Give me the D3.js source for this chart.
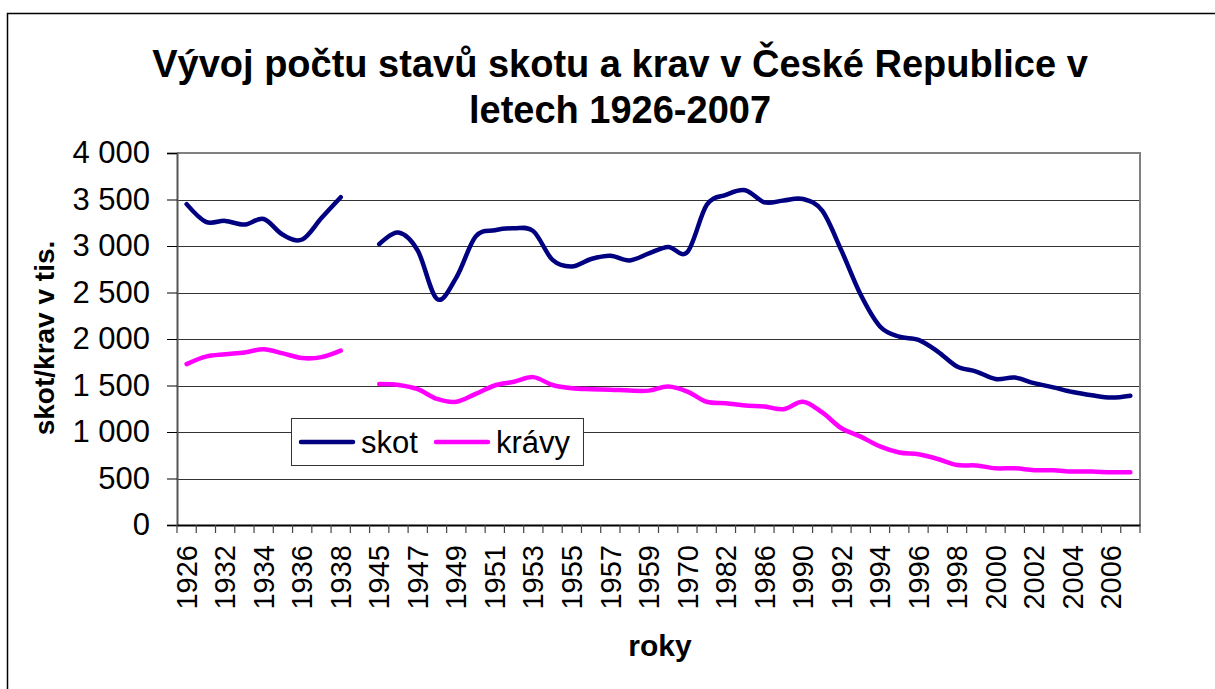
<!DOCTYPE html>
<html>
<head>
<meta charset="utf-8">
<script src="https://cdn.jsdelivr.net/npm/d3@7"></script>
<style>
  html, body { margin: 0; padding: 0; background: #fff; }
  svg { display: block; font-family: Arial, "Liberation Sans", sans-serif; }
</style>
</head>
<body>
<svg id="chart" width="1215" height="689"></svg>
<script>
// categories (every 2nd gets a label)
const years = ["1926", "1930", "1932", "1933", "1934", "1935", "1936", "1937", "1938", "1940",
  "1945", "1946", "1947", "1948", "1949", "1950", "1951", "1952", "1953", "1954",
  "1955", "1956", "1957", "1958", "1959", "1960", "1970", "1980", "1982", "1984",
  "1986", "1988", "1990", "1991", "1992", "1993", "1994", "1995", "1996", "1997",
  "1998", "1999", "2000", "2001", "2002", "2003", "2004", "2005", "2006", "2007"];

// tis. kusů
const skot = [3450, 3260, 3270, 3230, 3290, 3120, 3070, 3300, 3525, null,
  3020, 3145, 2950, 2430, 2660, 3100, 3170, 3190, 3160, 2850,
  2780, 2860, 2895, 2845, 2920, 2990, 2935, 3440, 3550, 3600,
  3470, 3490, 3505, 3380, 2950, 2475, 2135, 2025, 1990, 1865,
  1705, 1650, 1570, 1585, 1525, 1480, 1430, 1395, 1370, 1390];

const kravy = [1730, 1810, 1835, 1855, 1890, 1845, 1795, 1805, 1875, null,
  1515, 1505, 1460, 1355, 1325, 1410, 1500, 1540, 1590, 1505,
  1470, 1460, 1455, 1445, 1445, 1490, 1435, 1325, 1310, 1285,
  1275, 1245, 1325, 1210, 1040, 950, 845, 780, 760, 710,
  645, 640, 610, 610, 590, 588, 575, 575, 567, 567];

const yTicks = [0, 500, 1000, 1500, 2000, 2500, 3000, 3500, 4000];

const series = [
  { name: "skot", values: skot, color: "#000080" },
  { name: "krávy", values: kravy, color: "#FF00FF" }
];

const svg = d3.select("#chart");

// outer chart frame
svg.append("rect")
  .attr("x", 7.5).attr("y", 13.5)
  .attr("width", 1230).attr("height", 700)
  .attr("fill", "none").attr("stroke", "#000").attr("stroke-width", 1.5);

const plot = { left: 177, right: 1140, top: 153, bottom: 525 };

const x = d3.scaleBand().domain(years).range([plot.left, plot.right]).padding(0);
const y = d3.scaleLinear().domain([0, 4000]).range([plot.bottom, plot.top]);
const fmt = v => d3.format(",")(v).replace(/,/g, " ");

// gridlines
svg.append("g").selectAll("line").data(yTicks.filter(d => d > 0)).join("line")
  .attr("x1", plot.left).attr("x2", plot.right)
  .attr("y1", d => Math.round(y(d)) + 0.5).attr("y2", d => Math.round(y(d)) + 0.5)
  .attr("stroke", "#333").attr("stroke-width", 1);

// plot area border (right + top are grey)
svg.append("path")
  .attr("d", `M${plot.left},${plot.top}H${plot.right}V${plot.bottom}`)
  .attr("fill", "none").attr("stroke", "#808080").attr("stroke-width", 2);

// y axis
const yAxis = svg.append("g")
  .attr("transform", `translate(${plot.left},0)`)
  .call(d3.axisLeft(y).tickValues(yTicks).tickSize(10).tickPadding(17).tickFormat(fmt));
yAxis.select(".domain").attr("stroke", "#555").attr("stroke-width", 2);
yAxis.selectAll(".tick line").attr("stroke", "#000");
yAxis.selectAll("text").attr("font-size", 31).attr("fill", "#000")
  .attr("font-family", "Arial, 'Liberation Sans', sans-serif");

// x axis
const xAxis = svg.append("g")
  .attr("transform", `translate(0,${plot.bottom})`)
  .call(d3.axisBottom(x).tickSize(0).tickFormat((d, i) => i % 2 === 0 ? d : ""));
xAxis.select(".domain").attr("stroke", "#000").attr("stroke-width", 2);
xAxis.selectAll("text")
  .attr("font-size", 29).attr("fill", "#000")
  .attr("font-family", "Arial, 'Liberation Sans', sans-serif")
  .attr("text-anchor", "end")
  .attr("dy", "0.35em")
  .attr("transform", "translate(0,20) rotate(-90)")
  .attr("x", 0).attr("y", 0);

// category boundary ticks
const bounds = years.map(d => x(d)).concat([plot.right]);
svg.append("g").selectAll("line").data(bounds).join("line")
  .attr("x1", d => d).attr("x2", d => d)
  .attr("y1", plot.bottom).attr("y2", plot.bottom + 8)
  .attr("stroke", "#444").attr("stroke-width", 1.2);

// lines
const line = d3.line()
  .defined(d => d.v !== null)
  .x(d => x(d.year) + x.bandwidth() / 2)
  .y(d => y(d.v))
  .curve(d3.curveCardinal.tension(0));

svg.append("g").selectAll("path").data(series).join("path")
  .attr("d", s => line(years.map((yr, i) => ({ year: yr, v: s.values[i] }))))
  .attr("fill", "none")
  .attr("stroke", s => s.color)
  .attr("stroke-width", 4.5)
  .attr("stroke-linecap", "round")
  .attr("stroke-linejoin", "round");

// title
const title = svg.append("text")
  .attr("text-anchor", "middle")
  .attr("font-size", 38).attr("font-weight", "bold").attr("fill", "#000");
title.append("tspan").attr("x", 620).attr("y", 77).text("Vývoj počtu stavů skotu a krav v České Republice v");
title.append("tspan").attr("x", 620).attr("y", 123).text("letech 1926-2007");

// axis titles
svg.append("text")
  .attr("transform", "translate(54,338) rotate(-90)")
  .attr("text-anchor", "middle")
  .attr("font-size", 28).attr("font-weight", "bold")
  .text("skot/krav v tis.");

svg.append("text")
  .attr("x", 660).attr("y", 656)
  .attr("text-anchor", "middle")
  .attr("font-size", 30).attr("font-weight", "bold")
  .text("roky");

// legend
const legend = svg.append("g").attr("transform", "translate(291,418)");
legend.append("rect")
  .attr("x", 0.5).attr("y", 0.5).attr("width", 292).attr("height", 47)
  .attr("fill", "#fff").attr("stroke", "#333").attr("stroke-width", 1);
const items = [
  { s: series[0], lx: 10, tx: 70 },
  { s: series[1], lx: 145, tx: 205 }
];
items.forEach(it => {
  legend.append("line")
    .attr("x1", it.lx).attr("x2", it.lx + 52)
    .attr("y1", 24).attr("y2", 24)
    .attr("stroke", it.s.color).attr("stroke-width", 4.5).attr("stroke-linecap", "round");
  legend.append("text")
    .attr("x", it.tx).attr("y", 35)
    .attr("font-size", 31).attr("fill", "#000")
    .text(it.s.name);
});
</script>
</body>
</html>
